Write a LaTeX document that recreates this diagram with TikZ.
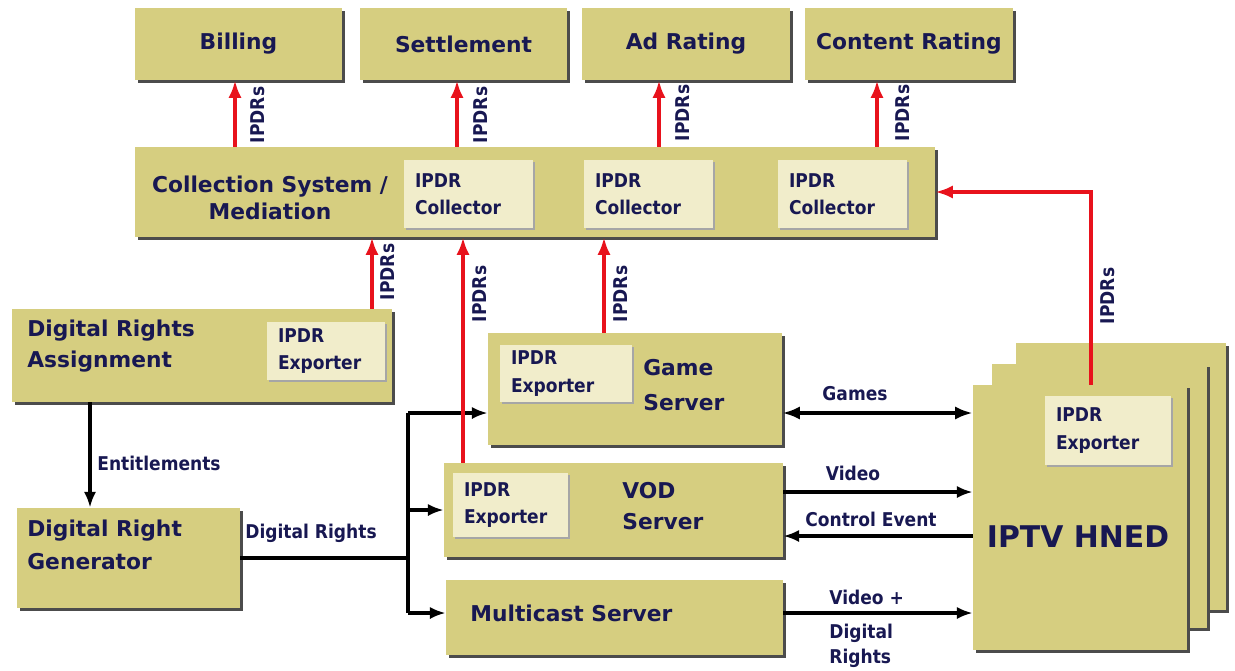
\documentclass[tikz,border=0pt]{standalone}
\usepackage{fontspec}
\setmainfont{DejaVu Sans}
\newfontfamily\narrowfont[FakeStretch=0.9]{DejaVu Sans}
\usetikzlibrary{arrows.meta,shadows}

\definecolor{boxfill}{RGB}{214,206,128}
\definecolor{innerfill}{RGB}{241,237,203}
\definecolor{navy}{RGB}{24,24,82}
\definecolor{ipdrred}{RGB}{232,18,28}

\tikzset{
  box/.style={fill=boxfill, inner sep=0pt, text=navy,
    font=\bfseries\fontsize{12.4}{15}\selectfont,
    drop shadow={shadow xshift=1.7pt, shadow yshift=-1.7pt, fill=black!70, opacity=1}},
  ipdrbox/.style={fill=innerfill, text=navy, align=left, inner xsep=0.22cm,
    text width=#1, font=\narrowfont\bfseries\fontsize{10.8}{15.5}\selectfont,
    drop shadow={shadow xshift=1.2pt, shadow yshift=-1.2pt, fill=black!35, opacity=1}},
  boxlabel/.style={text=navy, align=left, inner sep=0pt,
    font=\bfseries\fontsize{12.4}{18}\selectfont},
  edgelabel/.style={text=navy, align=left, inner sep=0pt,
    font=\narrowfont\bfseries\fontsize{10.8}{14}\selectfont},
  sidelabel/.style={edgelabel, rotate=90},
  ipdr/.style={draw=ipdrred, line width=2.1pt, -{Latex[length=10pt,width=7.5pt]}},
  flow/.style={draw=black, line width=2.3pt},
  tip/.style={-{Latex[length=9pt,width=7pt]}},
  bitip/.style={{Latex[length=10pt,width=7.5pt]}-{Latex[length=10pt,width=7.5pt]}}
}

\begin{document}
\begin{tikzpicture}[x=0.02cm, y=-0.02cm]
  \useasboundingbox (0,0) rectangle (1235,670);

  % systems fed with IPDRs
  \node[box, minimum width=4.14cm, minimum height=1.44cm] (billing) at (238.5,44) {Billing};
  \node[box, minimum width=4.14cm, minimum height=1.44cm] (settle) at (463.5,44) {Settlement};
  \node[box, minimum width=4.16cm, minimum height=1.44cm] (adrate) at (686,44) {Ad Rating};
  \node[box, minimum width=4.16cm, minimum height=1.44cm] (content) at (909,44) {Content Rating};

  % collection / mediation
  \node[box, minimum width=16cm, minimum height=1.8cm] (coll) at (535,192) {};
  \node[boxlabel, align=center] (collT) at (270,198) {Collection System /\\[-3pt]Mediation};
  \node[ipdrbox=2.14cm, minimum height=1.36cm] (collA) at (468.5,194) {IPDR\\Collector};
  \node[ipdrbox=2.14cm, minimum height=1.36cm] (collB) at (648.5,194) {IPDR\\Collector};
  \node[ipdrbox=2.14cm, minimum height=1.36cm] (collC) at (842.5,194) {IPDR\\Collector};

  % rights
  \node[box, minimum width=7.6cm, minimum height=1.86cm] (dra) at (202,355.5) {};
  \node[boxlabel, anchor=west] (draT) at (27,346) {Digital Rights\\Assignment};
  \node[ipdrbox=1.92cm, minimum height=1.16cm] (draexp) at (326,351) {IPDR\\Exporter};
  \node[box, minimum width=4.46cm, minimum height=2cm] (drg) at (128.5,558) {};
  \node[boxlabel, anchor=west] (drgT) at (27,545) {Digital Right\\[1pt]Generator};

  % servers
  \node[box, minimum width=5.88cm, minimum height=2.24cm] (game) at (635,389) {};
  \node[boxlabel, anchor=west] (gameT) at (643,385) {Game\\[2pt]Server};
  \node[ipdrbox=2.2cm, minimum height=1.14cm] (gameexp) at (566,373.5) {IPDR\\Exporter};
  \node[box, minimum width=6.78cm, minimum height=1.88cm] (vod) at (613.5,510) {};
  \node[boxlabel, anchor=west] (vodT) at (622,506) {VOD\\Server};
  \node[ipdrbox=1.86cm, minimum height=1.28cm] (vodexp) at (510.5,505) {IPDR\\Exporter};
  \node[box, minimum width=6.74cm, minimum height=1.5cm] (mcast) at (614.5,617.5) {};
  \node[boxlabel, anchor=west] (mcastT) at (470,613) {Multicast Server};

  % home network end devices
  \node[box, minimum width=4.2cm, minimum height=5.34cm] (hned3) at (1121,476.5) {};
  \node[box, minimum width=4.3cm, minimum height=5.28cm] (hned2) at (1099.5,496) {};
  \node[box, minimum width=4.28cm, minimum height=5.3cm] (hned) at (1080,517.5) {};
  \node[boxlabel, font=\bfseries\fontsize{17}{20}\selectfont] (hnedT) at (1078,537) {IPTV HNED};
  \node[ipdrbox=2.08cm, minimum height=1.38cm] (hnedexp) at (1108,430.5) {IPDR\\Exporter};

  % where the connectors run
  \coordinate (tBill) at (235,0);
  \coordinate (tSettle) at (457,0);
  \coordinate (tAd) at (659,0);
  \coordinate (tCont) at (877,0);
  \coordinate (tDra) at (372,0);
  \coordinate (tVod) at (463,0);
  \coordinate (tGame) at (604,0);
  \coordinate (tHned) at (1091,0);
  \coordinate (tEnt) at (90,0);
  \coordinate (busTop) at (408,413);
  \coordinate (busBot) at (408,613);
  \coordinate (vidY) at (0,492);
  \coordinate (ctlY) at (0,536);

  % content and rights flows
  \draw[flow, tip] (dra.south -| tEnt) -- (drg.north -| tEnt);
  \node[edgelabel, anchor=west] (entL) at (97,463) {Entitlements};
  \draw[flow] (drg.east) -- (drg.east -| busTop);
  \node[edgelabel, anchor=west] (drL) at (245,533) {Digital Rights};
  \draw[flow] (busTop) -- (busBot);
  \draw[flow, tip] (busTop) -- (game.west |- busTop);
  \draw[flow, tip] (vod.west -| busTop) -- (vod.west);
  \draw[flow, tip] (busBot) -- (mcast.west |- busBot);

  \draw[flow, bitip] (game.east |- busTop) -- (hned.west |- busTop);
  \node[edgelabel] (gamesL) at (855,394) {Games};
  \draw[flow, tip] (vod.east |- vidY) -- (hned.west |- vidY);
  \node[edgelabel] (vidL) at (853,473) {Video};
  \draw[flow, tip] (hned.west |- ctlY) -- (vod.east |- ctlY);
  \node[edgelabel] (ctlL) at (871,519) {Control Event};
  \draw[flow, tip] (mcast.east |- busBot) -- (hned.west |- busBot);
  \node[edgelabel, anchor=west] (vdrL) at (829,597) {Video +};
  \node[edgelabel, anchor=west] (vdrL2) at (829,646) {Digital\\Rights};

  % IPDR records
  \draw[ipdr] (coll.north -| tBill) -- (billing.south -| tBill);
  \node[sidelabel] (lBill) at (258,115) {IPDRs};
  \draw[ipdr] (coll.north -| tSettle) -- (settle.south -| tSettle);
  \node[sidelabel] (lSettle) at (481,115) {IPDRs};
  \draw[ipdr] (coll.north -| tAd) -- (adrate.south -| tAd);
  \node[sidelabel] (lAd) at (683,113) {IPDRs};
  \draw[ipdr] (coll.north -| tCont) -- (content.south -| tCont);
  \node[sidelabel] (lCont) at (903,113) {IPDRs};

  \draw[ipdr] (dra.north -| tDra) -- (coll.south -| tDra);
  \node[sidelabel] (lDra) at (388,272) {IPDRs};
  \draw[ipdr] (vod.north -| tVod) -- (coll.south -| tVod);
  \node[sidelabel] (lVod) at (480,294) {IPDRs};
  \draw[ipdr] (game.north -| tGame) -- (coll.south -| tGame);
  \node[sidelabel] (lGame) at (621,294) {IPDRs};
  \draw[ipdr] (hned.north -| tHned) |- (coll.east);
  \node[sidelabel] (lHned) at (1108,296) {IPDRs};
\end{tikzpicture}
\end{document}
